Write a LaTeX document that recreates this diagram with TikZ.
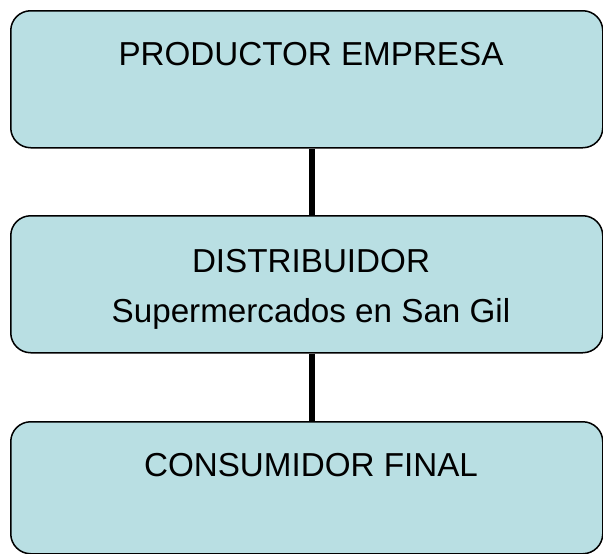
\documentclass[tikz,border=0pt]{standalone}
\usepackage{fontspec}
\setmainfont{Liberation Sans}
\definecolor{boxfill}{RGB}{185,223,227}
\begin{document}
\begin{tikzpicture}[x=1pt,y=-1pt,
  stagebox/.style={draw=black, line width=1.5pt, fill=boxfill, rounded corners=20pt,
    minimum width=592pt, inner sep=0pt, anchor=north west},
  label/.style={anchor=base, inner sep=0pt, font=\fontsize{33.2}{40}\selectfont},
  link/.style={line width=6pt, black}]
\useasboundingbox (0,0) rectangle (603,554);
\node[stagebox, minimum height=137pt] (b1) at (10,10) {};
\node[stagebox, minimum height=137pt] (b2) at (10,215) {};
\node[stagebox, minimum height=132pt] (b3) at (10,421) {};
\node[label] (t1) at (311,65) {PRODUCTOR EMPRESA};
\node[label] (t2) at (311,272) {DISTRIBUIDOR};
\node[label] (t3) at (311,322) {Supermercados en San Gil};
\node[label] (t4) at (311,476) {CONSUMIDOR FINAL};
\draw[link] ([xshift=5pt]b1.south) -- ([xshift=5pt]b2.north);
\draw[link] ([xshift=5pt]b2.south) -- ([xshift=5pt]b3.north);
\end{tikzpicture}
\end{document}
